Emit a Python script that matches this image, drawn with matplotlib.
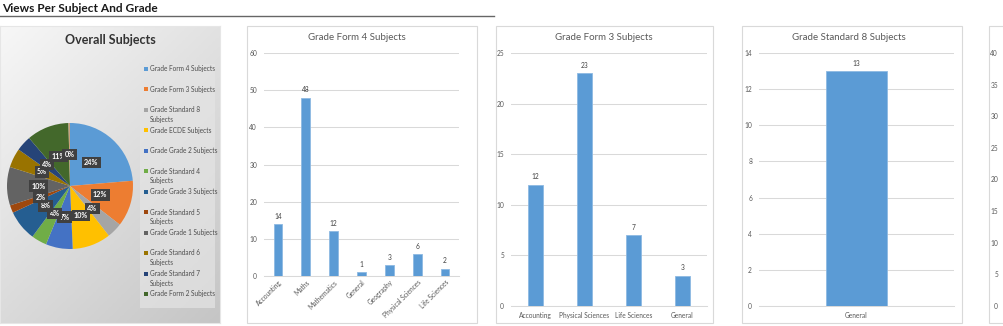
import textwrap
import numpy as np
import matplotlib
matplotlib.use("Agg")
import matplotlib.pyplot as plt
from matplotlib.patches import Rectangle

plt.rcParams['font.family'] = ['Lato', 'DejaVu Sans']

# ---------------- data ----------------
header_title = "Views Per Subject And Grade"
pie_title = "Overall Subjects"
pie_labels = ["Grade Form 4 Subjects", "Grade Form 3 Subjects", "Grade Standard 8 Subjects",
              "Grade ECDE Subjects", "Grade Grade 2 Subjects", "Grade Standard 4 Subjects",
              "Grade Grade 3 Subjects", "Grade Standard 5 Subjects", "Grade Grade 1 Subjects",
              "Grade Standard 6 Subjects", "Grade Standard 7 Subjects", "Grade Form 2 Subjects",
              "Other"]
pie_values = [24, 12, 4, 10, 7, 4, 8, 2, 10, 5, 4, 11, 0.4]
pie_colors = ['#5B9BD5', '#ED7D31', '#A5A5A5', '#FFC000', '#4472C4', '#70AD47',
              '#255E91', '#9E480E', '#636363', '#997300', '#264478', '#43682B', '#C9A27E']
legend_count = 12

f4_title = "Grade Form 4 Subjects"
f4_cats = ["Accounting", "Maths", "Mathematics", "General", "Geography", "Physical Sciences", "Life Sciences"]
f4_vals = [14, 48, 12, 1, 3, 6, 2]
f4_ticks = [0, 10, 20, 30, 40, 50, 60]

f3_title = "Grade Form 3 Subjects"
f3_cats = ["Accounting", "Physical Sciences", "Life Sciences", "General"]
f3_vals = [12, 23, 7, 3]
f3_ticks = [0, 5, 10, 15, 20, 25]

s8_title = "Grade Standard 8 Subjects"
s8_cats = ["General"]
s8_vals = [13]
s8_ticks = [0, 2, 4, 6, 8, 10, 12, 14]

p5_ticks = [0, 5, 10, 15, 20, 25, 30, 35, 40]

# ---------------- layout helpers ----------------
W, H = 1004, 326
fig = plt.figure(figsize=(W / 100, H / 100), dpi=100)
fig.patch.set_facecolor('white')


def rect(x0, y0, x1, y1):
    return [x0 / W, 1 - y1 / H, (x1 - x0) / W, (y1 - y0) / H]


def fx(x):
    return x / W


def fy(y):
    return 1 - y / H


TXT = '#595959'
BAR = '#5B9BD5'
GRID = '#D9D9D9'

# ---------------- header ----------------
fig.text(fx(2), fy(8), header_title, fontsize=8.6, fontweight='bold', color='#1a1a1a',
         ha='left', va='center')
fig.add_artist(plt.Line2D([0, fx(494)], [fy(15.5), fy(15.5)], color='#666666', lw=1.0))

# ---------------- pie panel ----------------
bg = fig.add_axes(rect(0, 26, 220, 323))
bg.set_zorder(-2)
gx, gy = np.meshgrid(np.linspace(0, 1, 200), np.linspace(0, 1, 200))
g = 0.55 * gx + 0.75 * gy
g = g / g.max()
bg.imshow(g, cmap=matplotlib.colors.LinearSegmentedColormap.from_list('g', ['#f7f7f7', '#c5c5c5']),
          extent=[0, 1, 0, 1], origin='upper', aspect='auto')
bg.set_xlim(0, 1)
bg.set_ylim(0, 1)
bg.set_xticks([])
bg.set_yticks([])
for s in bg.spines.values():
    s.set_color('#e6e6e6')
    s.set_linewidth(0.8)

fig.text(fx(110), fy(40), pie_title, fontsize=9.0, fontweight='bold', color='#333333',
         ha='center', va='center')

# legend box
fig.add_artist(Rectangle((fx(140), fy(308)), fx(215) - fx(140), fy(64) - fy(308),
                         transform=fig.transFigure, facecolor='#e4e4e4', edgecolor='none', alpha=0.7))
for i in range(legend_count):
    yy = 69 + i * 20.45
    fig.add_artist(Rectangle((fx(144), fy(yy + 2)), 4 / W, 4 / H, transform=fig.transFigure,
                             facecolor=pie_colors[i], edgecolor='none'))
    lab = pie_labels[i]
    lab = textwrap.fill(lab, 17) if len(lab) > 22 else lab
    fig.text(fx(149.5), fy(yy - 3.6), lab, fontsize=4.7, color='#4d4d4d', ha='left', va='top',
             linespacing=1.45)

pax = fig.add_axes(rect(7, 123, 133, 249))
wedges, texts, autotexts = pax.pie(
    pie_values, colors=pie_colors, startangle=90, counterclock=False,
    autopct=lambda p: f"{p:.0f}%", pctdistance=0.5,
    wedgeprops=dict(linewidth=0), radius=1.0)
for t in autotexts:
    t.set_color('white')
    t.set_fontsize(5.2)
    t.set_fontweight('bold')
    t.set_bbox(dict(boxstyle='square,pad=0.3', facecolor='#404040', edgecolor='none'))
pax.set_xlim(-1, 1)
pax.set_ylim(-1, 1)
pax.set_aspect('equal')
pax.axis('off')


# ---------------- bar panels ----------------
def panel_box(x0, y0, x1, y1):
    fig.add_artist(Rectangle((fx(x0), fy(y1)), fx(x1) - fx(x0), fy(y0) - fy(y1),
                             transform=fig.transFigure, facecolor='white', edgecolor=GRID,
                             lw=0.8, zorder=-5))


def bar_panel(box, axr, title, cats, vals, ticks, rotate, title_x):
    panel_box(*box)
    ax = fig.add_axes(rect(*axr))
    ax.set_zorder(2)
    ax.set_facecolor('none')
    x = np.arange(len(cats))
    ax.bar(x, vals, width=0.31, color=BAR, edgecolor='#8DB9E2', linewidth=0.6, zorder=3)
    ax.set_xlim(-0.5, len(cats) - 0.5)
    ax.set_ylim(ticks[0], ticks[-1])
    ax.set_yticks(ticks)
    ax.yaxis.grid(True, color=GRID, lw=0.75)
    ax.set_axisbelow(True)
    for s in ['top', 'right', 'left']:
        ax.spines[s].set_visible(False)
    ax.spines['bottom'].set_color(GRID)
    ax.spines['bottom'].set_linewidth(0.75)
    ax.tick_params(axis='both', length=0, labelsize=4.8, labelcolor=TXT)
    ax.tick_params(axis='y', pad=5)
    ax.set_xticks(x)
    if rotate:
        ax.set_xticklabels(cats, rotation=45, ha='right', rotation_mode='anchor')
        ax.tick_params(axis='x', pad=2)
    else:
        ax.set_xticklabels(cats)
        ax.tick_params(axis='x', pad=4)
    for xi, v in zip(x, vals):
        ax.annotate(f"{v}", (xi, v), xytext=(0, 3), textcoords='offset points',
                    ha='center', va='bottom', fontsize=4.8, color='#404040')
    fig.text(fx(title_x), fy(38), title, fontsize=7, color=TXT, ha='center', va='center')
    return ax


bar_panel((247, 26, 477, 323), (264, 53, 459, 276), f4_title, f4_cats, f4_vals, f4_ticks, True, 357)
bar_panel((496, 26, 713, 323), (511, 53, 707, 306), f3_title, f3_cats, f3_vals, f3_ticks, False, 604)
bar_panel((742, 26, 962, 323), (759, 53, 954, 306), s8_title, s8_cats, s8_vals, s8_ticks, False, 849)

# partial fifth panel (cut by the image edge)
panel_box(989, 26, 1100, 323)
ax5 = fig.add_axes(rect(1005, 53, 1200, 306))
ax5.set_zorder(2)
ax5.set_facecolor('none')
ax5.set_ylim(p5_ticks[0], p5_ticks[-1])
ax5.set_yticks(p5_ticks)
ax5.set_xticks([])
for s in ax5.spines.values():
    s.set_visible(False)
ax5.tick_params(axis='y', length=0, labelsize=4.8, labelcolor=TXT, pad=5)

fig.savefig("out.png", dpi=100)
